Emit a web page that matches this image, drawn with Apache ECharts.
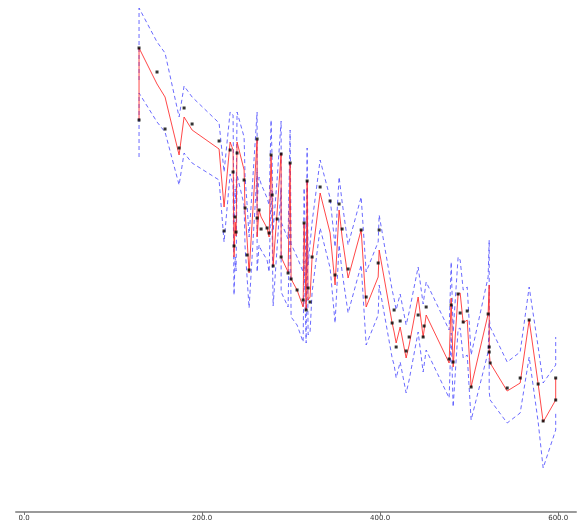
<!DOCTYPE html>
<html>
<head>
<meta charset="utf-8">
<script src="https://cdn.jsdelivr.net/npm/echarts@6/dist/echarts.min.js"></script>
<style>
  html, body { margin: 0; padding: 0; background: #fff; }
  #chart { width: 577px; height: 526px; }
</style>
</head>
<body>
<div id="chart"></div>
<script>
// Predictor values (sorted; repeated values give vertical jumps in the fit)
const xVals = [
  129.2, 129.2, 149.4, 158.4, 174.2, 179.8, 188.8, 219.1, 224.7, 231.5,
  234.8, 235.9, 237.1, 238.2, 239.3, 247.2, 248.3, 250.6, 252.8, 261.8,
  261.8, 264.0, 266.3, 273.0, 275.3, 277.5, 278.7, 279.8, 284.3, 288.8,
  288.8, 296.6, 298.9, 300.0, 306.7, 313.5, 314.6, 316.9, 318.0, 319.1,
  321.3, 323.6, 332.6, 343.8, 349.4, 353.9, 357.3, 364.0, 378.7, 384.3,
  397.8, 398.9, 413.5, 415.7, 418.0, 422.5, 429.2, 432.6, 442.7, 448.3,
  449.4, 451.7, 477.5, 479.8, 482.0, 487.6, 489.9, 493.3, 497.8, 502.2,
  521.3, 522.5, 522.5, 523.6, 542.7, 557.3, 567.4, 577.5, 583.1, 597.2,
  597.2
];

// Fitted values
const fitVals = [
  392, 464, 428, 415, 357, 395, 382, 363, 305, 370,
  362, 255, 290, 276, 370, 342, 300, 272, 239, 372,
  275, 302, 295, 284, 275, 357, 317, 246, 300, 359,
  255, 240, 349, 233, 222, 205, 289, 202, 331, 212,
  215, 255, 319, 279, 227, 302, 275, 234, 282, 205,
  235, 262, 189, 180, 169, 185, 154, 167, 215, 175,
  182, 197, 149, 214, 145, 218, 219, 189, 192, 125,
  198, 227, 160, 149, 121, 129, 192, 128, 90, 112,
  134
];

// Upper confidence limit
const upperVals = [
  432, 504, 470, 459, 395, 426, 415, 389, 340, 400,
  397, 290, 323, 309, 400, 375, 335, 307, 275, 400,
  310, 335, 328, 314, 307, 392, 352, 281, 333, 391,
  290, 273, 382, 268, 255, 240, 324, 237, 364, 247,
  248, 290, 352, 314, 265, 335, 310, 267, 315, 240,
  270, 297, 222, 213, 202, 218, 187, 200, 245, 208,
  215, 230, 182, 250, 180, 255, 252, 222, 225, 157,
  235, 272, 195, 185, 150, 160, 225, 165, 129, 147,
  175
];

// Lower confidence limit
const lowerVals = [
  355, 419, 390, 380, 327, 359, 349, 332, 270, 338,
  327, 217, 255, 241, 337, 307, 265, 234, 204, 340,
  240, 267, 262, 252, 240, 322, 282, 206, 265, 324,
  220, 205, 311, 195, 187, 170, 251, 169, 293, 177,
  180, 220, 284, 244, 189, 267, 240, 199, 247, 167,
  197, 227, 154, 147, 134, 150, 119, 132, 180, 140,
  147, 162, 114, 179, 105, 183, 184, 154, 157, 92,
  160, 190, 120, 112, 89, 99, 155, 90, 44, 82,
  99
];

// Observed responses
const obsVals = [
  392, 464, 440, 383, 364, 404, 388, 371, 281, 362,
  340, 266, 295, 280, 359, 332, 304, 257, 242, 373,
  294, 302, 283, 284, 279, 357, 317, 246, 293, 358,
  255, 239, 349, 233, 222, 212, 289, 202, 331, 224,
  210, 255, 325, 311, 237, 308, 283, 243, 282, 215,
  249, 282, 189, 202, 165, 191, 161, 175, 197, 175,
  186, 205, 153, 207, 150, 218, 199, 190, 201, 125,
  198, 165, 160, 149, 124, 134, 192, 128, 91, 112,
  134
];

const xTicks = [0, 200, 400, 600];

const pairs = (ys) => xVals.map((x, i) => [x, ys[i]]);

const chart = echarts.init(document.getElementById('chart'), null, { renderer: 'canvas' });

const bandStyle = {
  color: 'rgba(70, 70, 255, 0.8)',
  width: 1,
  type: [4, 3]
};

chart.setOption({
  animation: false,
  backgroundColor: '#ffffff',
  grid: { left: 16, right: 1, top: 0, bottom: 14, containLabel: false },
  xAxis: {
    type: 'value',
    min: -9,
    max: 620,
    splitLine: { show: false },
    axisLine: { show: true, lineStyle: { color: '#9a9a9a', width: 2 } },
    axisTick: {
      show: true,
      customValues: xTicks,
      length: 3,
      lineStyle: { color: '#777', width: 1 }
    },
    axisLabel: {
      show: true,
      customValues: xTicks,
      formatter: (v) => v.toFixed(1),
      fontFamily: 'DejaVu Sans',
      fontSize: 7,
      color: '#333',
      margin: 3
    }
  },
  yAxis: {
    type: 'value',
    min: 0,
    max: 512,
    show: false
  },
  series: [
    {
      name: 'upper',
      type: 'line',
      data: pairs(upperVals),
      symbol: 'none',
      lineStyle: bandStyle,
      z: 1
    },
    {
      name: 'lower',
      type: 'line',
      data: pairs(lowerVals),
      symbol: 'none',
      lineStyle: bandStyle,
      z: 1
    },
    {
      name: 'fit',
      type: 'line',
      data: pairs(fitVals),
      symbol: 'none',
      lineStyle: { color: 'rgba(255, 40, 40, 0.85)', width: 1 },
      z: 2
    },
    {
      name: 'observed',
      type: 'scatter',
      data: pairs(obsVals),
      symbol: 'rect',
      symbolSize: 3,
      itemStyle: { color: '#000' },
      z: 3
    }
  ]
});
</script>
</body>
</html>
